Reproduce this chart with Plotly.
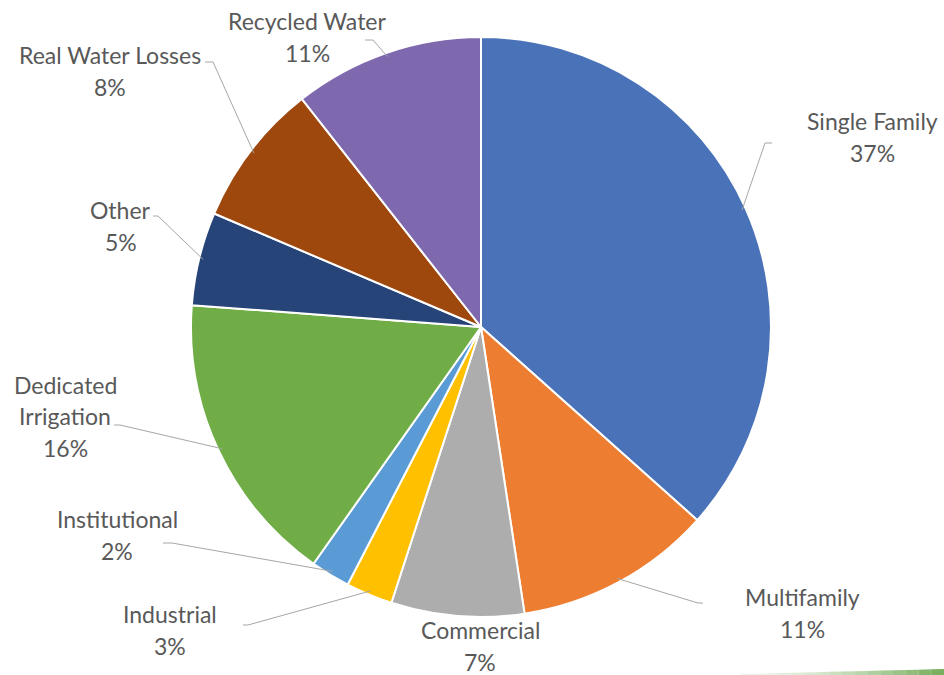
import math
import plotly.graph_objects as go

# ---- data ----
categories = ["Single Family", "Multifamily", "Commercial", "Industrial", "Institutional",
              "Dedicated Irrigation", "Other", "Real Water Losses", "Recycled Water"]
shares = [36.6, 11.0, 7.4, 2.6, 2.2, 16.4, 5.2, 8.0, 10.6]
colors = ["#4A72B8", "#ED7D31", "#ADADAD", "#FFC000", "#5B9BD5",
          "#70AD47", "#264478", "#9E480E", "#7E68AE"]

# ---- layout (pixel positions) ----
W, H = 944, 675
CX, CY, R = 481, 327, 290
FONT = "Lato"
FS = 23
LINE_GAP = 31.5
TEXT_COLOR = "#595959"
wrap = {"Dedicated Irrigation": ["Dedicated", "Irrigation"]}
# label centre (x, y), elbow (x, y), horizontal end x  (None = no leader)
label_layout = {
    "Single Family": ((872, 137), (765, 143), 772),
    "Multifamily": ((802, 613), (698, 603), 703),
    "Commercial": ((480, 646), None, None),
    "Industrial": ((170, 630), (248, 625), 243),
    "Institutional": ((117, 535), (172, 543), 163),
    "Dedicated Irrigation": ((65, 416), (120, 425), 114),
    "Other": ((121, 226), (158, 216), 153),
    "Real Water Losses": ((110, 71), (213, 62), 205),
    "Recycled Water": ((307, 37), (373, 40), 365),
}


def px(x):
    return x / W


def py(y):
    return 1 - y / H


fig = go.Figure(go.Pie(
    labels=categories,
    values=shares,
    sort=False,
    direction="clockwise",
    rotation=0,
    marker=dict(colors=colors, line=dict(color="white", width=2)),
    textinfo="none",
    hoverinfo="label+percent",
    showlegend=False,
    domain=dict(x=[px(CX - R), px(CX + R)], y=[py(CY + R), py(CY - R)]),
))

total = sum(shares)
annotations = []
shapes = []
cum = 0.0
for cat, v in zip(categories, shares):
    mid = (cum + v / 2) / total * 2 * math.pi
    cum += v
    pct = f"{round(v / total * 100)}%"
    lines = wrap.get(cat, [cat]) + [pct]
    (lx, ly), elbow, hend = label_layout[cat]
    n = len(lines)
    for i, t in enumerate(lines):
        yy = ly + (i - (n - 1) / 2) * LINE_GAP
        annotations.append(dict(
            x=px(lx), y=py(yy), xref="paper", yref="paper", text=t, showarrow=False,
            xanchor="center", yanchor="middle",
            font=dict(family=FONT, size=FS, color=TEXT_COLOR)))
    if elbow is not None:
        sx = CX + (R - 4) * math.sin(mid)
        sy = CY - (R - 4) * math.cos(mid)
        path = (f"M {px(sx)} {py(sy)} L {px(elbow[0])} {py(elbow[1])} "
                f"L {px(hend)} {py(elbow[1])}")
        shapes.append(dict(type="path", xref="paper", yref="paper", path=path,
                           line=dict(color="#A6A6A6", width=1)))

# faint green slide decoration at the bottom right (tapered wedge)
x_start, x_end = 740, 944
steps = 16
for i in range(steps):
    xa = x_start + (x_end - x_start) * i / steps
    xb = x_start + (x_end - x_start) * (i + 1) / steps
    ta = 675 - 1 - 5 * i / steps
    tb = 675 - 1 - 5 * (i + 1) / steps
    path = (f"M {px(xa)} {py(675)} L {px(xa)} {py(ta)} L {px(xb)} {py(tb)} "
            f"L {px(xb)} {py(675)} Z")
    shapes.append(dict(type="path", xref="paper", yref="paper", path=path,
                       fillcolor="#5E9E3E", opacity=0.1 + 0.8 * (i / steps) ** 1.5,
                       line=dict(width=0), layer="below"))

fig.update_layout(
    width=W, height=H,
    margin=dict(l=0, r=0, t=0, b=0),
    paper_bgcolor="white",
    plot_bgcolor="white",
    annotations=annotations,
    shapes=shapes,
)

fig.write_html("out.html", config={"displayModeBar": False},
               post_script="document.body.style.margin='0';document.body.style.overflow='hidden';")
